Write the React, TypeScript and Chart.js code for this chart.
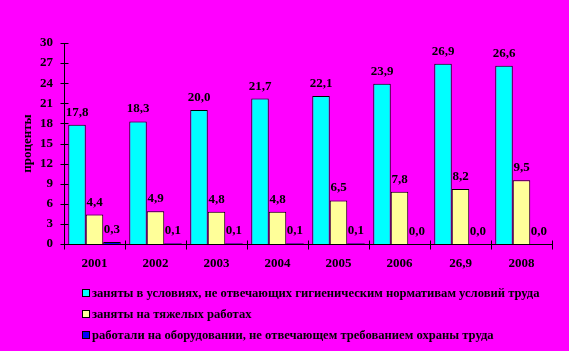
import React, { useEffect, useRef } from "react";
import { Chart, registerables } from "chart.js";

Chart.register(...registerables);

const categories = ["2001", "2002", "2003", "2004", "2005", "2006", "26,9", "2008"];
const hygieneValues = [17.8, 18.3, 20.0, 21.7, 22.1, 23.9, 26.9, 26.6];
const heavyWorkValues = [4.4, 4.9, 4.8, 4.8, 6.5, 7.8, 8.2, 9.5];
const equipmentValues = [0.3, 0.1, 0.1, 0.1, 0.1, 0.0, 0.0, 0.0];
const seriesLabels = [
  "заняты в условиях, не отвечающих гигиеническим нормативам условий труда",
  "заняты на тяжелых работах",
  "работали на оборудовании, не отвечающем требованием охраны труда",
];
const seriesColors = ["#00FFFF", "#FFFF99", "#0000FF"];
const yTitle = "проценты";

const FONT = "'Liberation Serif', 'Times New Roman', serif";

const decor = {
  id: "decor",
  afterDatasetsDraw(chart: any) {
    const ctx = chart.ctx;
    ctx.save();
    ctx.fillStyle = "#000";
    ctx.font = `bold 13px ${FONT}`;
    ctx.textAlign = "center";
    ctx.textBaseline = "alphabetic";
    chart.data.datasets.forEach((ds: any, di: number) => {
      const meta = chart.getDatasetMeta(di);
      meta.data.forEach((el: any, i: number) => {
        const v = ds.data[i] as number;
        ctx.fillText(v.toFixed(1).replace(".", ","), el.x, el.y - 9);
      });
    });
    ctx.restore();
  },
  afterDraw(chart: any) {
    const ctx = chart.ctx;
    const { left, right, top, bottom } = chart.chartArea;
    const y = chart.scales.y;
    ctx.save();
    ctx.strokeStyle = "#000";
    ctx.lineWidth = 1;
    const line = (x1: number, y1: number, x2: number, y2: number) => {
      ctx.beginPath();
      ctx.moveTo(x1, y1);
      ctx.lineTo(x2, y2);
      ctx.stroke();
    };
    const ax = Math.round(left) + 0.5;
    const ay = Math.round(bottom) + 0.5;
    line(ax, top, ax, ay);
    line(ax, ay, right, ay);
    y.ticks.forEach((_t: any, i: number) => {
      const py = Math.round(y.getPixelForTick(i)) + 0.5;
      line(ax - 4, py, ax + 4, py);
    });
    const n = chart.data.labels.length;
    for (let i = 0; i <= n; i++) {
      const px = Math.round(left + (i * (right - left)) / n) + 0.5;
      line(px, ay - 4, px, ay + 5);
    }
    // legend
    ctx.font = `bold 12.6px ${FONT}`;
    ctx.textAlign = "left";
    ctx.textBaseline = "middle";
    const rows = [293, 314, 335];
    chart.data.datasets.forEach((ds: any, di: number) => {
      const cy = rows[di];
      ctx.fillStyle = ds.backgroundColor;
      ctx.fillRect(82, cy - 4, 8, 8);
      ctx.strokeRect(82.5, cy - 3.5, 7, 7);
      ctx.fillStyle = "#000";
      ctx.fillText(ds.label, 92, cy + 1);
    });
    ctx.restore();
  },
};

export default function App() {
  const ref = useRef<HTMLCanvasElement>(null);
  useEffect(() => {
    document.body.style.margin = "0";
    const chart = new Chart(ref.current!, {
      type: "bar",
      data: {
        labels: categories,
        datasets: [hygieneValues, heavyWorkValues, equipmentValues].map((d, i) => ({
          label: seriesLabels[i],
          data: d,
          backgroundColor: seriesColors[i],
          borderColor: "#000",
          borderWidth: 1,
          categoryPercentage: 0.86,
          barPercentage: 1,
        })),
      },
      options: {
        animation: false,
        responsive: false,
        layout: { padding: { top: 43, right: 17, left: 0, bottom: 0 } },
        plugins: { legend: { display: false }, tooltip: { enabled: false } },
        scales: {
          x: {
            grid: { display: false, drawTicks: false },
            border: { display: false },
            ticks: { color: "#000", font: { family: FONT, size: 13, weight: "bold" }, padding: 12 },
            afterFit: (s: any) => {
              s.height = 107;
            },
          },
          y: {
            min: 0,
            max: 30,
            grid: { display: false, drawTicks: false },
            border: { display: false },
            ticks: { stepSize: 3, color: "#000", font: { family: FONT, size: 13, weight: "bold" }, padding: 11 },
            title: {
              display: true,
              text: yTitle,
              color: "#000",
              font: { family: FONT, size: 13, weight: "bold" },
              padding: { top: 20, bottom: 0 },
            },
            afterFit: (s: any) => {
              s.width = 64;
            },
          },
        },
      },
      plugins: [decor],
    });
    return () => chart.destroy();
  }, []);
  return (
    <div style={{ position: "absolute", left: 0, top: 0, width: 569, height: 351, background: "#FF00FF" }}>
      <canvas ref={ref} width={569} height={351} style={{ width: 569, height: 351, display: "block" }} />
    </div>
  );
}
